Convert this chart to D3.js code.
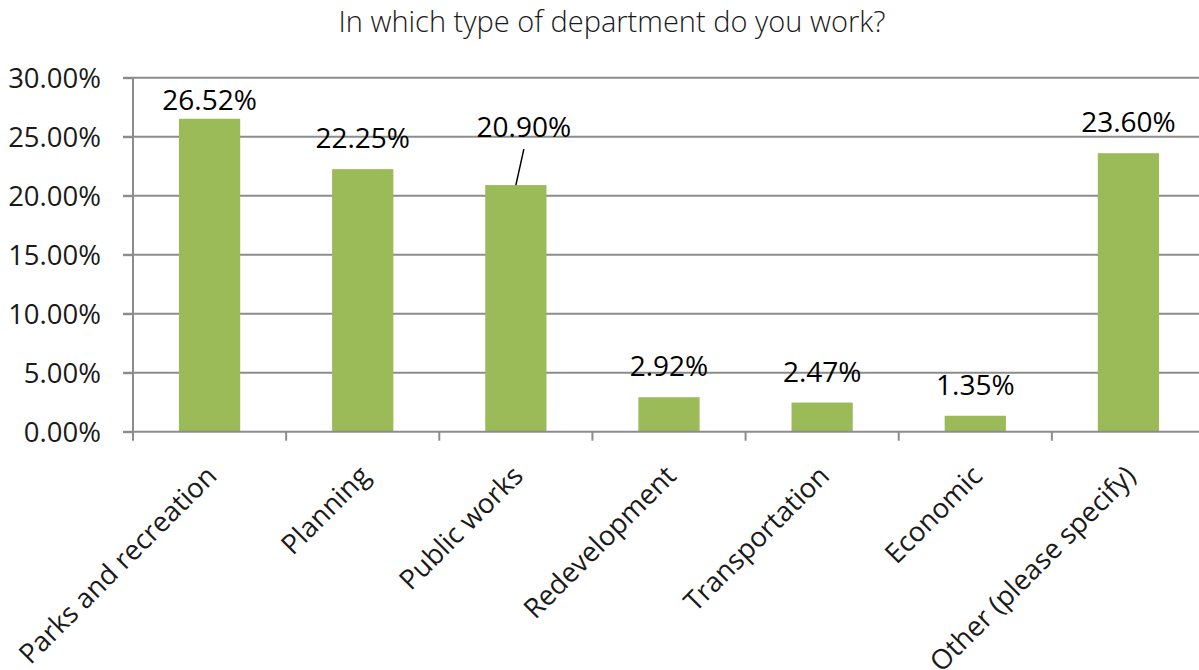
<!DOCTYPE html>
<html><head><meta charset="utf-8">
<script src="https://cdn.jsdelivr.net/npm/d3@7"></script>
<style>
html,body{margin:0;padding:0;background:#fff;}
svg{display:block;font-family:"Open Sans","Noto Sans",sans-serif;}
</style></head>
<body>
<svg id="chart" width="1199" height="670"></svg>
<script>
const title = "In which type of department do you work?";
const categories = ["Parks and recreation","Planning","Public works","Redevelopment","Transportation","Economic","Other (please specify)"];
const values = [26.52, 22.25, 20.90, 2.92, 2.47, 1.35, 23.60];
const yTicks = [0, 5, 10, 15, 20, 25, 30];

(function () {
const svg = d3.select("#chart");
const pLeft = 133, pRight = 1205, pTop = 77.7, pBottom = 431.7;

const x = d3.scaleBand().domain(categories).range([pLeft, pRight]).paddingInner(0.6).paddingOuter(0.3);
const y = d3.scaleLinear().domain([0, 30]).range([pBottom, pTop]);

svg.append("text").attr("x", 612).attr("y", 31.5).attr("text-anchor", "middle")
  .attr("font-size", 29).attr("font-weight", 300).attr("fill", "#1a1a1a").text(title);

// gridlines
svg.append("g").selectAll("line").data(yTicks.filter(d => d > 0)).join("line")
  .attr("x1", pLeft - 10).attr("x2", 1199)
  .attr("y1", d => y(d)).attr("y2", d => y(d))
  .attr("stroke", "#8c8c8c").attr("stroke-width", 2);

// y axis
const yAxis = d3.axisLeft(y).tickValues(yTicks).tickFormat(d => d.toFixed(2) + "%").tickSize(10).tickPadding(22);
const gy = svg.append("g").attr("transform", `translate(${pLeft},0)`).call(yAxis);
gy.select(".domain").remove();
gy.selectAll(".tick line").attr("stroke", "#8c8c8c").attr("stroke-width", 2);
gy.selectAll(".tick text").attr("font-size", 27.5).attr("fill", "#1a1a1a").attr("font-family", "Open Sans").attr("dy", "0.35em");
svg.append("line").attr("x1", pLeft).attr("x2", pLeft).attr("y1", pTop).attr("y2", pBottom + 8)
  .attr("stroke", "#8c8c8c").attr("stroke-width", 2);

// bars
svg.append("g").selectAll("rect").data(values).join("rect")
  .attr("x", (d, i) => x(categories[i])).attr("width", x.bandwidth())
  .attr("y", d => y(d)).attr("height", d => pBottom - y(d))
  .attr("fill", "#9bbb59");

// x axis
svg.append("line").attr("x1", pLeft - 10).attr("x2", 1199).attr("y1", pBottom).attr("y2", pBottom)
  .attr("stroke", "#8c8c8c").attr("stroke-width", 2);
const step = x.step();
const boundaries = d3.range(categories.length).map(i => pLeft + i * step);
svg.append("g").selectAll("line").data(boundaries).join("line")
  .attr("x1", d => d).attr("x2", d => d).attr("y1", pBottom).attr("y2", pBottom + 9)
  .attr("stroke", "#8c8c8c").attr("stroke-width", 2);

// category labels
svg.append("g").selectAll("text").data(categories).join("text")
  .attr("text-anchor", "end").attr("font-size", 27.5).attr("fill", "#1a1a1a")
  .attr("transform", d => `translate(${x(d) + x.bandwidth() / 2 + 2},${pBottom + 39}) rotate(-45)`)
  .attr("dy", "0.35em").text(d => d);

// data labels
const labelAdjust = { "Public works": { dx: 8, dy: -27, leader: true } };
const lg = svg.append("g");
values.forEach((v, i) => {
  const c = categories[i];
  const cx = x(c) + x.bandwidth() / 2;
  const adj = labelAdjust[c] || { dx: 0, dy: 0 };
  let by = Math.max(y(v) - 21, pTop + 32) + adj.dy;
  lg.append("text").attr("x", cx + adj.dx).attr("y", by).attr("text-anchor", "middle")
    .attr("font-size", 28).attr("fill", "#000").text(v.toFixed(2) + "%");
  if (adj.leader) {
    lg.append("line").attr("x1", cx).attr("y1", y(v)).attr("x2", cx + adj.dx).attr("y2", by + 12)
      .attr("stroke", "#000").attr("stroke-width", 1.5);
  }
});
})();
</script>
</body></html>
